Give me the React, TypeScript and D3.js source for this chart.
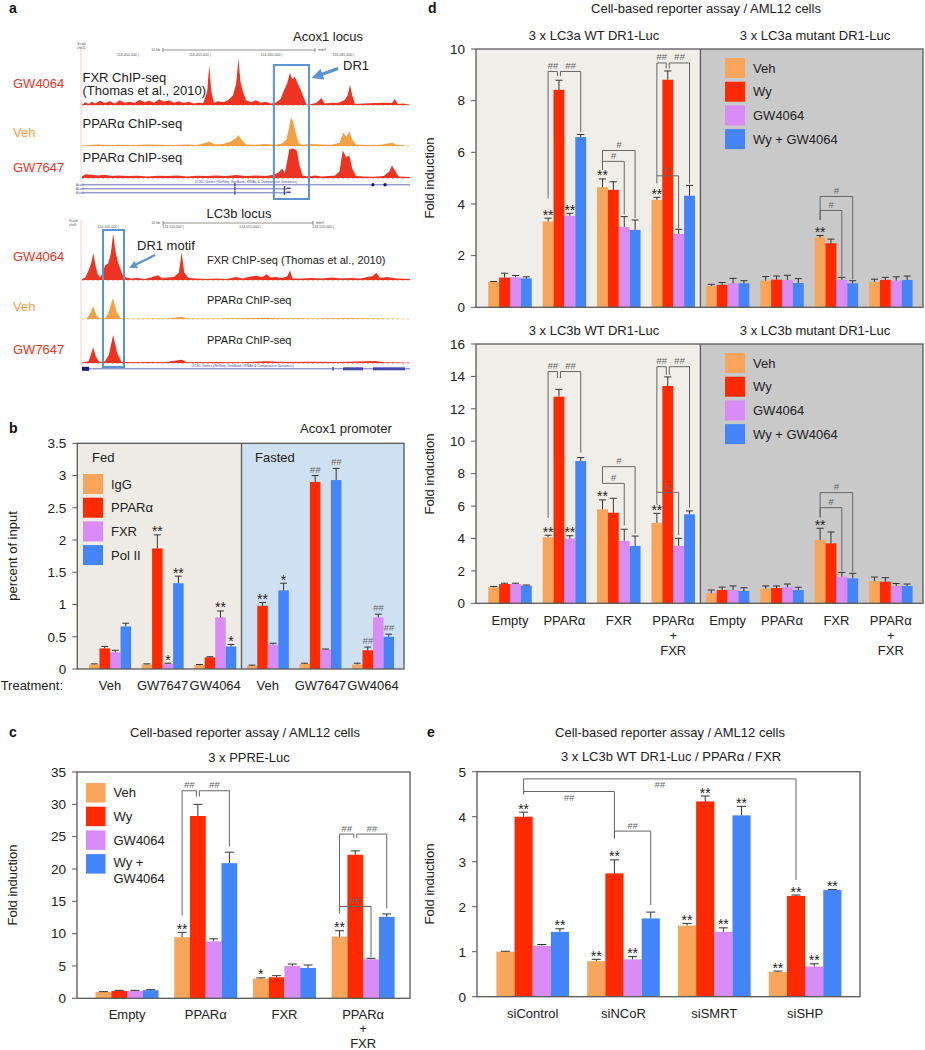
import React from 'react';
import * as d3 from 'd3';

const FONT = "'Liberation Sans', Arial, Helvetica, sans-serif";
const BAR_COLORS = ['#f9a55b', '#ff2a00', '#d98bf6', '#4485fb'];
const RED = '#ee3322';
const ORANGE = '#f7a043';
const BOX_BLUE = '#5b93d3';
const AXIS = '#5a5a5a';
const HASH = '#666';
const TEXT = '#222';

// ---------- panel a: ChIP-seq coverage, [relative position 0-100, relative height 0-1] ----------
const acoxFxr: [number, number][] = [
  [0, 0], [1, 0.06], [2, 0.02], [3, 0.07], [4, 0.03], [5.5, 0.09], [7, 0.04], [8.5, 0.08], [10, 0.03],
  [11.5, 0.1], [13, 0.05], [14.5, 0.07], [16, 0.04], [17.5, 0.11], [19, 0.06], [20.5, 0.09], [22, 0.05],
  [23.5, 0.12], [25, 0.07], [26.5, 0.1], [28, 0.05], [29.5, 0.08], [31, 0.04], [32.5, 0.07], [34, 0.03],
  [35.5, 0.05], [37, 0.04], [38.2, 0.3], [38.8, 0.85], [39.4, 0.3], [40.2, 0.05], [41.5, 0.08], [43, 0.06],
  [44.5, 0.1], [46, 0.2], [47, 0.45], [47.7, 0.99], [48.3, 0.5], [49, 0.3], [50, 0.1], [51.5, 0.06],
  [53, 0.1], [54.5, 0.05], [56, 0.07], [57.5, 0.03], [59, 0.05], [60.5, 0.12], [61.5, 0.3], [62.5, 0.45],
  [63.4, 0.68], [64.1, 0.55], [64.9, 0.6], [65.8, 0.45], [66.8, 0.3], [67.8, 0.12], [68.5, 0], [70, 0.02],
  [71.5, 0.05], [73, 0.15], [74, 0.03], [76, 0.05], [78, 0.04], [80, 0.1], [81, 0.2], [81.7, 0.43],
  [82.4, 0.2], [83.2, 0.02], [86, 0.03], [89, 0.04], [92, 0.05], [94.5, 0.04], [95.4, 0.13], [96.2, 0.02],
  [98, 0.03], [100, 0],
];
const acoxVeh: [number, number][] = [
  [0, 0], [2, 0.03], [5, 0.05], [8, 0.03], [12, 0.04], [16, 0.03], [20, 0.05], [24, 0.04], [28, 0.03],
  [32, 0.05], [35, 0.03], [37, 0.08], [38.8, 0.14], [40.5, 0.05], [43, 0.06], [45.5, 0.15], [47, 0.25],
  [47.7, 0.34], [48.6, 0.2], [50, 0.05], [53, 0.04], [56, 0.06], [59, 0.04], [61, 0.08], [62.3, 0.2],
  [63, 0.5], [63.7, 0.9], [64.4, 0.75], [65.2, 0.4], [66, 0.1], [67, 0.04], [70, 0.06], [73, 0.05],
  [76, 0.04], [78.5, 0.1], [79.7, 0.42], [80.6, 0.28], [81.5, 0.45], [82.4, 0.2], [83.5, 0.05], [87, 0.03],
  [91, 0.04], [94.5, 0.1], [96, 0.04], [100, 0],
];
const acoxGw7647: [number, number][] = [
  [0, 0.05], [1, 0.12], [3, 0.1], [5, 0.08], [7, 0.1], [9, 0.06], [11, 0.08], [14, 0.06], [17, 0.07],
  [20, 0.05], [23, 0.07], [26, 0.06], [29, 0.08], [32, 0.05], [35, 0.07], [38, 0.06], [41, 0.08], [44, 0.06],
  [47, 0.09], [50, 0.06], [53, 0.08], [56, 0.06], [58.5, 0.1], [60, 0.18], [61, 0.3], [61.8, 0.15],
  [62.5, 0.5], [63.2, 0.9], [64.5, 0.92], [65.5, 0.85], [66.3, 0.4], [67.2, 0.08], [69, 0.05], [71, 0.08],
  [73, 0.05], [75, 0.06], [77, 0.07], [78.5, 0.2], [79.5, 0.87], [80.5, 0.65], [81.5, 0.7], [82.4, 0.3],
  [83.5, 0.06], [86, 0.05], [89, 0.04], [92, 0.06], [93.7, 0.2], [94.5, 0.4], [95.3, 0.25], [96.5, 0.05],
  [100, 0.03],
];
const lc3bFxr: [number, number][] = [
  [0, 0.02], [1, 0.05], [2, 0.2], [2.8, 0.35], [3.45, 0.56], [4.1, 0.3], [4.8, 0.12], [5.5, 0.05],
  [6.3, 0.15], [7, 0.3], [8, 0.35], [8.8, 0.55], [9.5, 0.97], [10.2, 0.6], [10.9, 0.38], [11.6, 0.25],
  [12.4, 0.1], [13.5, 0.05], [15, 0.03], [17, 0.04], [19, 0.02], [21, 0.05], [23.2, 0.1], [24.5, 0.03],
  [26, 0.05], [28, 0.06], [29.5, 0.15], [30.4, 0.57], [31.2, 0.15], [32.5, 0.04], [35, 0.03], [38, 0.02],
  [41, 0.03], [44, 0.02], [47, 0.06], [49, 0.03], [51, 0.07], [53, 0.09], [55, 0.06], [56.3, 0.12],
  [57.5, 0.05], [59, 0.06], [61, 0.04], [62.6, 0.08], [63.4, 0.2], [64.2, 0.03], [67, 0.03], [70, 0.04],
  [73, 0.03], [76, 0.05], [79, 0.03], [82, 0.04], [85, 0.03], [87, 0.06], [88.5, 0.08], [89.8, 0.15],
  [90.8, 0.04], [93, 0.06], [96, 0.03], [100, 0.02],
];
const lc3bVeh: [number, number][] = [
  [0, 0], [1.5, 0.02], [2.5, 0.2], [3.4, 0.48], [4.3, 0.15], [5.3, 0.02], [7, 0.03], [8, 0.2], [9.4, 0.78],
  [10.6, 0.25], [11.8, 0.03], [14, 0.01], [20, 0.02], [26, 0.02], [30.4, 0.08], [32, 0.02], [40, 0.02],
  [50, 0.03], [56, 0.05], [60, 0.03], [70, 0.02], [80, 0.03], [90, 0.02], [100, 0],
];
const lc3bGw7647: [number, number][] = [
  [0, 0.01], [2, 0.05], [2.7, 0.25], [3.4, 0.48], [4.2, 0.2], [5.2, 0.03], [7, 0.05], [8.2, 0.25],
  [9.5, 0.85], [10.7, 0.3], [12, 0.04], [15, 0.02], [20, 0.03], [25, 0.02], [30.4, 0.1], [32, 0.02],
  [40, 0.03], [48, 0.02], [56, 0.05], [62, 0.03], [70, 0.04], [78, 0.03], [89.5, 0.06], [92, 0.02], [100, 0.01],
];
const acoxCoords = ['116,050,000', '116,055,000', '116,060,000', '116,065,000'];
const lc3bCoords = ['124,105,000', '124,110,000', '124,115,000', '124,120,000'];

// ---------- panel b: ChIP, percent of input ----------
const bGroups = ['Veh', 'GW7647', 'GW4064', 'Veh', 'GW7647', 'GW4064'];
const bLegend = ['IgG', 'PPARα', 'FXR', 'Pol II'];
const bIgG = [0.07, 0.07, 0.06, 0.05, 0.08, 0.07];
const bPpar = [0.32, 1.87, 0.18, 0.98, 2.9, 0.29];
const bFxr = [0.26, 0.08, 0.8, 0.38, 0.3, 0.8];
const bPol = [0.66, 1.33, 0.35, 1.22, 2.93, 0.5];
const bIgGErr = [0.01, 0.01, 0.01, 0.01, 0.01, 0.02];
const bPparErr = [0.03, 0.21, 0.01, 0.05, 0.1, 0.05];
const bFxrErr = [0.03, 0.01, 0.1, 0.02, 0.01, 0.05];
const bPolErr = [0.05, 0.11, 0.03, 0.11, 0.18, 0.04];
const bTicks = [0, 0.5, 1, 1.5, 2, 2.5, 3, 3.5];

// ---------- panel c: 3 x PPRE-Luc ----------
const cGroups = ['Empty', 'PPARα', 'FXR', 'PPARα\n+\nFXR'];
const treatLegend = ['Veh', 'Wy', 'GW4064', 'Wy + GW4064'];
const cVeh = [0.98, 9.45, 3.04, 9.55];
const cWy = [1.15, 28.2, 3.25, 22.2];
const cGw = [1.15, 8.8, 5.0, 6.03];
const cWyGw = [1.25, 20.9, 4.7, 12.6];
const cVehErr = [0.05, 0.75, 0.12, 0.9];
const cWyErr = [0.08, 1.8, 0.25, 0.6];
const cGwErr = [0.08, 0.4, 0.3, 0.15];
const cWyGwErr = [0.08, 1.7, 0.45, 0.45];
const cTicks = [0, 5, 10, 15, 20, 25, 30, 35];

// ---------- panel d: LC3a / LC3b DR1-Luc ----------
const dGroups = ['Empty', 'PPARα', 'FXR', 'PPARα\n+\nFXR', 'Empty', 'PPARα', 'FXR', 'PPARα\n+\nFXR'];
const daVeh = [0.98, 3.32, 4.65, 4.16, 0.83, 1.03, 2.71, 0.98];
const daWy = [1.15, 8.42, 4.55, 8.81, 0.87, 1.07, 2.48, 1.06];
const daGw = [1.16, 3.54, 3.11, 2.84, 0.93, 1.06, 1.06, 1.03];
const daWyGw = [1.12, 6.59, 3.0, 4.32, 0.93, 0.94, 0.93, 1.06];
const daVehErr = [0.02, 0.13, 0.32, 0.1, 0.06, 0.16, 0.07, 0.11];
const daWyErr = [0.17, 0.37, 0.31, 0.34, 0.09, 0.14, 0.16, 0.1];
const daGwErr = [0.07, 0.1, 0.4, 0.18, 0.19, 0.18, 0.1, 0.15];
const daWyGwErr = [0.06, 0.1, 0.38, 0.4, 0.1, 0.17, 0.1, 0.15];
const daTicks = [0, 2, 4, 6, 8, 10];

const dbVeh = [0.99, 4.07, 5.8, 4.96, 0.62, 0.9, 3.91, 1.37];
const dbWy = [1.19, 12.75, 5.59, 13.41, 0.82, 0.94, 3.7, 1.33];
const dbGw = [1.19, 4.0, 3.85, 3.54, 0.82, 0.99, 1.64, 1.07];
const dbWyGw = [1.09, 8.78, 3.54, 5.49, 0.76, 0.82, 1.54, 1.07];
const dbVehErr = [0.05, 0.13, 0.58, 0.59, 0.2, 0.17, 0.72, 0.25];
const dbWyErr = [0.05, 0.45, 0.89, 0.56, 0.18, 0.13, 0.7, 0.25];
const dbGwErr = [0.05, 0.17, 0.72, 0.47, 0.25, 0.2, 0.27, 0.15];
const dbWyGwErr = [0.04, 0.21, 0.61, 0.21, 0.2, 0.17, 0.31, 0.12];
const dbTicks = [0, 2, 4, 6, 8, 10, 12, 14, 16];

// ---------- panel e: siRNA ----------
const eGroups = ['siControl', 'siNCoR', 'siSMRT', 'siSHP'];
const eVeh = [1.0, 0.79, 1.58, 0.55];
const eWy = [4.0, 2.74, 4.34, 2.24];
const eGw = [1.13, 0.83, 1.44, 0.67];
const eWyGw = [1.44, 1.74, 4.03, 2.37];
const eVehErr = [0.01, 0.04, 0.05, 0.02];
const eWyErr = [0.1, 0.3, 0.12, 0.02];
const eGwErr = [0.03, 0.06, 0.09, 0.06];
const eWyGwErr = [0.07, 0.14, 0.2, 0.01];
const eTicks = [0, 1, 2, 3, 4, 5];

type Mark = { g: number; s: number; t: string };
type Bracket = { ga: number; a: number; gb: number; b: number; top: number; aLow: number; bLow: number; label: string; below?: boolean };
const br = (g: number, a: number, b: number, top: number, aLow: number, bLow: number, label: string): Bracket =>
  ({ ga: g, a, gb: g, b, top, aLow, bLow, label });
const mk = (g: number, s: number, t: string): Mark => ({ g, s, t });

const bMarks = [mk(1, 1, '**'), mk(1, 2, '*'), mk(1, 3, '**'), mk(2, 2, '**'), mk(2, 3, '*'), mk(3, 1, '**'),
  mk(3, 3, '*'), mk(4, 1, '##'), mk(4, 3, '##'), mk(5, 1, '##'), mk(5, 2, '##'), mk(5, 3, '##')];
const cMarks = [mk(1, 0, '**'), mk(2, 0, '*'), mk(3, 0, '**')];
const cBrackets = [
  br(1, 0, 1, 32.1, 12.8, 31.2, '##'), br(1, 1, 3, 32.1, 31.2, 23.5, '##'),
  br(3, 0, 1, 25.4, 13.1, 24.8, '##'), br(3, 1, 3, 25.4, 24.8, 13.9, '##'), br(3, 0, 2, 14.2, 14.2, 6.35, '##'),
];
const dMarks = [mk(1, 0, '**'), mk(1, 2, '**'), mk(2, 0, '**'), mk(3, 0, '**'), mk(6, 0, '**')];
const daBrackets = [
  br(1, 0, 1, 9.13, 4.22, 8.95, '##'), br(1, 1, 3, 9.13, 8.95, 6.78, '##'),
  br(2, 0, 2, 5.65, 5.32, 3.6, '#'), br(2, 0, 3, 6.07, 5.32, 3.45, '#'),
  br(3, 0, 1, 9.46, 4.8, 9.25, '##'), br(3, 1, 3, 9.46, 9.25, 4.78, '##'), br(3, 0, 2, 5.09, 5.09, 3.06, '#'),
  br(6, 0, 2, 3.75, 3.38, 1.2, '#'), br(6, 0, 3, 4.29, 3.38, 1.08, '#'),
];
const dbBrackets = [
  br(1, 0, 1, 14.3, 5.27, 13.9, '##'), br(1, 1, 3, 14.3, 13.9, 9.3, '##'),
  br(2, 0, 2, 7.4, 7.4, 4.8, '#'), br(2, 0, 3, 8.43, 7.4, 4.3, '#'),
  br(3, 0, 1, 14.6, 6.07, 14.1, '##'), br(3, 1, 3, 14.6, 14.1, 5.9, '##'), br(3, 0, 2, 6.85, 6.85, 4.2, '#'),
  br(6, 0, 2, 5.9, 5.3, 2.0, '#'), br(6, 0, 3, 6.83, 5.3, 1.95, '#'),
];
const eMarks = [mk(0, 1, '**'), mk(0, 3, '**'), mk(1, 0, '**'), mk(1, 1, '**'), mk(1, 2, '**'), mk(2, 0, '**'),
  mk(2, 1, '**'), mk(2, 2, '**'), mk(2, 3, '**'), mk(3, 0, '**'), mk(3, 1, '**'), mk(3, 2, '**'), mk(3, 3, '**')];
const eBrackets: Bracket[] = [
  { ga: 0, a: 1, gb: 1, b: 1, top: 4.56, aLow: 4.5, bLow: 3.52, label: '##', below: true },
  { ga: 0, a: 1, gb: 3, b: 1, top: 4.84, aLow: 4.5, bLow: 2.59, label: '##', below: true },
  { ga: 1, a: 1, gb: 1, b: 3, top: 3.68, aLow: 3.52, bLow: 2.04, label: '##' },
];

type Frame = { left: number; right: number; top: number; bottom: number };
interface PanelProps {
  groups: string[];
  values: number[][];
  errors: number[][];
  yDomain: [number, number];
  yTicks: number[];
  frame: Frame;
  band: [number, number];
  split?: number;
  bg?: [string, string];
  marks?: Mark[];
  brackets?: Bracket[];
  xLabelY?: number;
}

function Multiline({ x, y, text, size = 13, lh = 14.8, anchor = 'middle', fill = TEXT }: any) {
  return (
    <text x={x} y={y} fontSize={size} textAnchor={anchor} fill={fill}>
      {text.split('\n').map((t: string, i: number) => (
        <tspan key={i} x={x} dy={i === 0 ? 0 : lh}>{t}</tspan>
      ))}
    </text>
  );
}

function BarPanel(p: PanelProps) {
  const f = p.frame;
  const y = d3.scaleLinear().domain(p.yDomain).range([f.bottom, f.top]);
  const x = d3.scaleBand<number>().domain(d3.range(p.groups.length)).range(p.band).paddingInner(0.2).paddingOuter(0.1);
  const xs = d3.scaleBand<number>().domain(d3.range(p.values.length)).range([0, x.bandwidth()]);
  const bw = xs.bandwidth();
  const cx = (g: number, s: number) => (x(g) ?? 0) + (xs(s) ?? 0) + bw / 2;
  const cap = Math.min(bw * 0.65, 9);
  const splitX = p.split != null ? ((x(p.split - 1) ?? 0) + x.bandwidth() + (x(p.split) ?? 0)) / 2 : null;
  const errTop = (g: number, s: number) => y(p.values[s][g] + p.errors[s][g]);
  const brs = p.brackets ?? [];
  const shared = (b: Bracket, g: number, s: number) =>
    brs.some(o => o !== b && o.top === b.top && ((o.ga === g && o.a === s) || (o.gb === g && o.b === s)));

  return (
    <g>
      {p.bg && splitX != null && (
        <>
          <rect x={f.left} y={f.top} width={splitX - f.left} height={f.bottom - f.top} fill={p.bg[0]} />
          <rect x={splitX} y={f.top} width={f.right - splitX} height={f.bottom - f.top} fill={p.bg[1]} />
        </>
      )}
      {p.values.map((ser, s) =>
        ser.map((v, g) => (
          <rect key={`b${s}-${g}`} x={(x(g) ?? 0) + (xs(s) ?? 0)} y={y(v)} width={bw} height={y(0) - y(v)}
            fill={BAR_COLORS[s]} />
        ))
      )}
      {p.values.map((ser, s) =>
        ser.map((v, g) => {
          const c = cx(g, s);
          const t = errTop(g, s);
          return (
            <path key={`e${s}-${g}`} d={`M${c},${y(v)}V${t}M${c - cap / 2},${t}H${c + cap / 2}`}
              stroke="#333" strokeWidth={1} fill="none" />
          );
        })
      )}
      <rect x={f.left} y={f.top} width={f.right - f.left} height={f.bottom - f.top} fill="none" stroke={AXIS} strokeWidth={1.3} />
      {splitX != null && <line x1={splitX} x2={splitX} y1={f.top} y2={f.bottom} stroke={AXIS} strokeWidth={1.3} />}
      {p.yTicks.map(t => (
        <g key={`t${t}`}>
          <line x1={f.left - 5} x2={f.left} y1={y(t)} y2={y(t)} stroke={AXIS} strokeWidth={1} />
          <text x={f.left - 11} y={y(t) + 4.8} fontSize={13.5} textAnchor="end" fill={TEXT}>{String(t)}</text>
        </g>
      ))}
      {p.xLabelY != null && p.groups.map((gname, g) => (
        <Multiline key={`x${g}`} x={(x(g) ?? 0) + x.bandwidth() / 2} y={p.xLabelY} text={gname} />
      ))}
      {(p.marks ?? []).map((m, i) => {
        const star = m.t.includes('*');
        return (
          <text key={`m${i}`} x={cx(m.g, m.s)} y={errTop(m.g, m.s) + (star ? 1.5 : -3)} textAnchor="middle"
            fontSize={star ? 14 : 9.5} fontStyle={star ? 'normal' : 'italic'} fill={star ? TEXT : HASH}>{m.t}</text>
        );
      })}
      {brs.map((b, i) => {
        const xa = cx(b.ga, b.a) + (shared(b, b.ga, b.a) ? 1.5 : 0);
        const xb = cx(b.gb, b.b) - (shared(b, b.gb, b.b) ? 1.5 : 0);
        return (
          <g key={`br${i}`}>
            <path d={`M${xa},${y(b.aLow)}V${y(b.top)}H${xb}V${y(b.bLow)}`} fill="none" stroke="#666" strokeWidth={1} />
            <text x={(xa + xb) / 2} y={y(b.top) + (b.below ? 9.5 : -2.5)} textAnchor="middle" fontSize={9.5}
              fontStyle="italic" fill={HASH}>{b.label}</text>
          </g>
        );
      })}
    </g>
  );
}

function Legend({ x, y, items, pitch = 23.7, size = 20 }: { x: number; y: number; items: string[]; pitch?: number; size?: number }) {
  return (
    <g>
      {items.map((it, i) => {
        const lines = it.split('\n');
        const top = y + i * pitch;
        return (
          <g key={it}>
            <rect x={x} y={top} width={size} height={size} fill={BAR_COLORS[i]} />
            <Multiline x={x + size + 8} y={top + size / 2 + (lines.length > 1 ? 3.5 : 4.7)} text={it} anchor="start" lh={16} />
          </g>
        );
      })}
    </g>
  );
}

function PanelA() {
  const xA = d3.scaleLinear().domain([0, 100]).range([82, 410]);
  const tracks = [
    { data: acoxFxr, base: 105, h: 47, color: RED },
    { data: acoxVeh, base: 146, h: 32, color: ORANGE },
    { data: acoxGw7647, base: 178, h: 32, color: RED },
    { data: lc3bFxr, base: 280, h: 48, color: RED },
    { data: lc3bVeh, base: 319, h: 27, color: ORANGE },
    { data: lc3bGw7647, base: 363, h: 33, color: RED },
  ];
  const tiny = { fontSize: 3.6, fill: '#555' };
  const geneCol = '#4848a8';
  return (
    <g>
      <defs>
        <marker id="ah" viewBox="0 0 10 10" refX="6" refY="5" markerWidth="3.6" markerHeight="3.6" orient="auto">
          <path d="M0,0L10,5L0,10z" fill={BOX_BLUE} />
        </marker>
      </defs>
      {/* browser chrome */}
      <line x1={81} x2={81} y1={46} y2={182} stroke="#f3b8b0" strokeWidth={0.7} />
      <line x1={81} x2={81} y1={220} y2={366} stroke="#f3b8b0" strokeWidth={0.7} />
      <text x={77} y={45} {...tiny}>Scale</text>
      <text x={77} y={49} {...tiny}>chr11:</text>
      <text x={69} y={222} {...tiny}>Scale</text>
      <text x={69} y={226} {...tiny}>chr8:</text>
      <line x1={163} x2={315} y1={50} y2={50} stroke="#777" strokeWidth={0.8} />
      <path d="M163,48V52M315,48V52" stroke="#777" strokeWidth={0.8} />
      <text x={160} y={51.3} textAnchor="end" {...tiny}>10 kb</text>
      <text x={318} y={51.3} {...tiny}>mm9</text>
      {acoxCoords.map((c, i) => (
        <text key={c} x={xA(14 + i * 21.9)} y={55.5} textAnchor="middle" {...tiny}>{c + ' |'}</text>
      ))}
      <line x1={163} x2={313} y1={223} y2={223} stroke="#777" strokeWidth={0.8} />
      <path d="M163,221V225M313,221V225" stroke="#777" strokeWidth={0.8} />
      <text x={160} y={224.3} textAnchor="end" {...tiny}>10 kb</text>
      <text x={316} y={224.3} {...tiny}>mm9</text>
      {lc3bCoords.map((c, i) => (
        <text key={c} x={xA([8, 27.8, 51.2, 73.5][i])} y={228} textAnchor="middle" {...tiny}>{c + ' |'}</text>
      ))}

      {tracks.map((t, i) => {
        const yT = d3.scaleLinear().domain([0, 1]).range([t.base, t.base - t.h]);
        const area = d3.area<[number, number]>().x(d => xA(d[0])).y0(yT(0)).y1(d => yT(d[1]));
        return (
          <g key={i}>
            <line x1={xA(0)} x2={xA(100)} y1={t.base} y2={t.base} stroke={t.color} strokeWidth={1} strokeDasharray="2,3" opacity={0.7} />
            <path d={area(t.data) ?? ''} fill={t.color} />
          </g>
        );
      })}

      {/* gene tracks */}
      <text x={xA(50)} y={183} textAnchor="middle" fontSize={3.4} fill={geneCol}>
        UCSC Genes (RefSeq, GenBank, tRNAs &amp; Comparative Genomics)
      </text>
      <line x1={xA(0)} x2={xA(100)} y1={184.8} y2={184.8} stroke={geneCol} strokeWidth={0.8} />
      <line x1={xA(0)} x2={xA(62.5)} y1={188.8} y2={188.8} stroke={geneCol} strokeWidth={0.8} />
      <line x1={xA(0)} x2={xA(62.5)} y1={192.8} y2={192.8} stroke={geneCol} strokeWidth={0.8} />
      {[184.8, 188.8, 192.8].map(yy => (
        <g key={yy}>
          <rect x={xA(46.6) - 0.7} y={yy - 1.8} width={1.4} height={3.6} fill={geneCol} />
          <text x={76} y={yy + 1} fontSize={2.8} fill={geneCol}>Acox1</text>
        </g>
      ))}
      <rect x={xA(61.5)} y={186} width={1.5} height={9} fill={geneCol} />
      <rect x={xA(62.4)} y={187.5} width={4} height={1.6} fill={geneCol} />
      <rect x={xA(62.4)} y={191.5} width={4} height={1.6} fill={geneCol} />
      <circle cx={xA(88.7)} cy={184.8} r={1.7} fill="#1c1c80" />
      <circle cx={xA(92.4)} cy={184.8} r={1.7} fill="#1c1c80" />

      <text x={xA(49)} y={366.5} textAnchor="middle" fontSize={3.4} fill={geneCol}>
        UCSC Genes (RefSeq, GenBank, tRNAs &amp; Comparative Genomics)
      </text>
      <line x1={xA(0)} x2={xA(100)} y1={368.8} y2={368.8} stroke={geneCol} strokeWidth={0.8} />
      <rect x={xA(0)} y={366.8} width={xA(2.2) - xA(0)} height={4} fill="#1c1c80" />
      <rect x={xA(76.3)} y={367} width={1.4} height={3.6} fill={geneCol} />
      <rect x={xA(79.6)} y={367.3} width={xA(85.7) - xA(79.6)} height={3} fill={geneCol} />
      <rect x={xA(88.7)} y={367.3} width={xA(98.5) - xA(88.7)} height={3} fill={geneCol} />

      {/* highlight boxes */}
      <rect x={xA(58.5)} y={65} width={xA(69.2) - xA(58.5)} height={134} fill="none" stroke={BOX_BLUE} strokeWidth={2} />
      <rect x={xA(6.4)} y={230} width={xA(12.8) - xA(6.4)} height={137} fill="none" stroke={BOX_BLUE} strokeWidth={2} />
      <line x1={338} y1={68.5} x2={316} y2={76.5} stroke={BOX_BLUE} strokeWidth={3.2} markerEnd="url(#ah)" />
      <line x1={155} y1={255} x2={132} y2={266.5} stroke={BOX_BLUE} strokeWidth={2.2} markerEnd="url(#ah)" />

      {/* labels */}
      <text x={293} y={40.5} fontSize={13} fill={TEXT}>Acox1 locus</text>
      <text x={343} y={69.5} fontSize={13} fill={TEXT}>DR1</text>
      <text x={82.5} y={81.5} fontSize={13} fill={TEXT}>FXR ChIP-seq</text>
      <text x={82.5} y={94.5} fontSize={13} fill={TEXT}>(Thomas et al., 2010)</text>
      <text x={82.5} y={127.5} fontSize={13} fill={TEXT}>PPARα ChIP-seq</text>
      <text x={82.5} y={161.5} fontSize={13} fill={TEXT}>PPARα ChIP-seq</text>
      <text x={13} y={87.5} fontSize={13} fill={RED}>GW4064</text>
      <text x={13} y={136.5} fontSize={13} fill={ORANGE}>Veh</text>
      <text x={13} y={171.5} fontSize={13} fill={RED}>GW7647</text>

      <text x={239} y={217.5} fontSize={13} textAnchor="middle" fill={TEXT}>LC3b locus</text>
      <text x={137} y={249.5} fontSize={13} fill={TEXT}>DR1 motif</text>
      <text x={207} y={264} fontSize={11} fill={TEXT}>FXR ChIP-seq (Thomas et al., 2010)</text>
      <text x={207} y={304} fontSize={11} fill={TEXT}>PPARα ChIP-seq</text>
      <text x={207} y={344} fontSize={11} fill={TEXT}>PPARα ChIP-seq</text>
      <text x={13} y={261} fontSize={13} fill={RED}>GW4064</text>
      <text x={13} y={311} fontSize={13} fill={ORANGE}>Veh</text>
      <text x={13} y={353.5} fontSize={13} fill={RED}>GW7647</text>
    </g>
  );
}

function YLabel({ x, cy, text }: { x: number; cy: number; text: string }) {
  return (
    <text transform={`translate(${x},${cy}) rotate(-90)`} textAnchor="middle" fontSize={13} fill={TEXT}>{text}</text>
  );
}

export default function App() {
  const bFrame = { left: 77.3, right: 404, top: 443.3, bottom: 669 };
  const cFrame = { left: 77, right: 410, top: 772, bottom: 998.3 };
  const daFrame = { left: 476, right: 923, top: 49, bottom: 307.3 };
  const dbFrame = { left: 476, right: 923, top: 344, bottom: 603.3 };
  const eFrame = { left: 477, right: 860, top: 771.7, bottom: 996.7 };

  return (
    <div style={{ position: 'absolute', left: 0, top: 0, width: 925, height: 1050, background: '#fff' }}>
      <svg width={925} height={1050} viewBox="0 0 925 1050" style={{ display: 'block', fontFamily: FONT }}>
        <rect width={925} height={1050} fill="#fff" />
        {/* panel letters */}
        {[['a', 9, 13], ['b', 9, 433], ['c', 9, 737], ['d', 428, 13], ['e', 427, 736.5]].map(([l, lx, ly]) => (
          <text key={l as string} x={lx as number} y={ly as number} fontSize={14} fontWeight="bold" fill="#111">{l}</text>
        ))}

        <PanelA />

        {/* panel b */}
        <text x={300} y={432.5} fontSize={13} fill={TEXT}>Acox1 promoter</text>
        <BarPanel groups={bGroups} values={[bIgG, bPpar, bFxr, bPol]} errors={[bIgGErr, bPparErr, bFxrErr, bPolErr]}
          yDomain={[0, 3.5]} yTicks={bTicks} frame={bFrame} band={[83.7, 399.3]} split={3}
          bg={['#efece5', '#cfe0f2']} marks={bMarks} xLabelY={690} />
        <text x={92} y={461.5} fontSize={13} fill={TEXT}>Fed</text>
        <text x={255} y={461.5} fontSize={13} fill={TEXT}>Fasted</text>
        <Legend x={83} y={474} items={bLegend} />
        <text x={63} y={690} fontSize={13} textAnchor="end" fill={TEXT}>Treatment:</text>
        <YLabel x={17} cy={556} text="percent of input" />

        {/* panel c */}
        <text x={245} y={736.5} fontSize={13} textAnchor="middle" fill={TEXT}>Cell-based reporter assay / AML12 cells</text>
        <text x={249} y={762} fontSize={13} textAnchor="middle" fill={TEXT}>3 x PPRE-Luc</text>
        <BarPanel groups={cGroups} values={[cVeh, cWy, cGw, cWyGw]} errors={[cVehErr, cWyErr, cGwErr, cWyGwErr]}
          yDomain={[0, 35]} yTicks={cTicks} frame={cFrame} band={[87.7, 402.5]}
          marks={cMarks} brackets={cBrackets} xLabelY={1018.5} />
        <Legend x={86} y={783} items={['Veh', 'Wy', 'GW4064', 'Wy +\nGW4064']} size={19.5} />
        <YLabel x={17} cy={885} text="Fold induction" />

        {/* panel d */}
        <text x={706} y={12.5} fontSize={13} textAnchor="middle" fill={TEXT}>Cell-based reporter assay / AML12 cells</text>
        <text x={594} y={39.5} fontSize={13} textAnchor="middle" fill={TEXT}>3 x LC3a WT DR1-Luc</text>
        <text x={815} y={39.5} fontSize={13} textAnchor="middle" fill={TEXT}>3 x LC3a mutant DR1-Luc</text>
        <BarPanel groups={dGroups} values={[daVeh, daWy, daGw, daWyGw]} errors={[daVehErr, daWyErr, daGwErr, daWyGwErr]}
          yDomain={[0, 10]} yTicks={daTicks} frame={daFrame} band={[482.8, 918]} split={4}
          bg={['#f0eee8', '#c9c9c9']} marks={dMarks} brackets={daBrackets} />
        <Legend x={725} y={58} items={treatLegend} />
        <YLabel x={434} cy={178} text="Fold induction" />

        <text x={594} y={334.5} fontSize={13} textAnchor="middle" fill={TEXT}>3 x LC3b WT DR1-Luc</text>
        <text x={815} y={334.5} fontSize={13} textAnchor="middle" fill={TEXT}>3 x LC3b mutant DR1-Luc</text>
        <BarPanel groups={dGroups} values={[dbVeh, dbWy, dbGw, dbWyGw]} errors={[dbVehErr, dbWyErr, dbGwErr, dbWyGwErr]}
          yDomain={[0, 16]} yTicks={dbTicks} frame={dbFrame} band={[482.8, 918]} split={4}
          bg={['#f0eee8', '#c9c9c9']} marks={dMarks} brackets={dbBrackets} xLabelY={625} />
        <Legend x={725} y={353} items={treatLegend} />
        <YLabel x={434} cy={474} text="Fold induction" />

        {/* panel e */}
        <text x={670} y={737} fontSize={13} textAnchor="middle" fill={TEXT}>Cell-based reporter assay / AML12 cells</text>
        <text x={671} y={761} fontSize={13} textAnchor="middle" fill={TEXT}>3 x LC3b WT DR1-Luc / PPARα / FXR</text>
        <BarPanel groups={eGroups} values={[eVeh, eWy, eGw, eWyGw]} errors={[eVehErr, eWyErr, eGwErr, eWyGwErr]}
          yDomain={[0, 5]} yTicks={eTicks} frame={eFrame} band={[487.3, 850.5]}
          marks={eMarks} brackets={eBrackets} xLabelY={1018} />
        <YLabel x={434} cy={884} text="Fold induction" />
      </svg>
    </div>
  );
}
